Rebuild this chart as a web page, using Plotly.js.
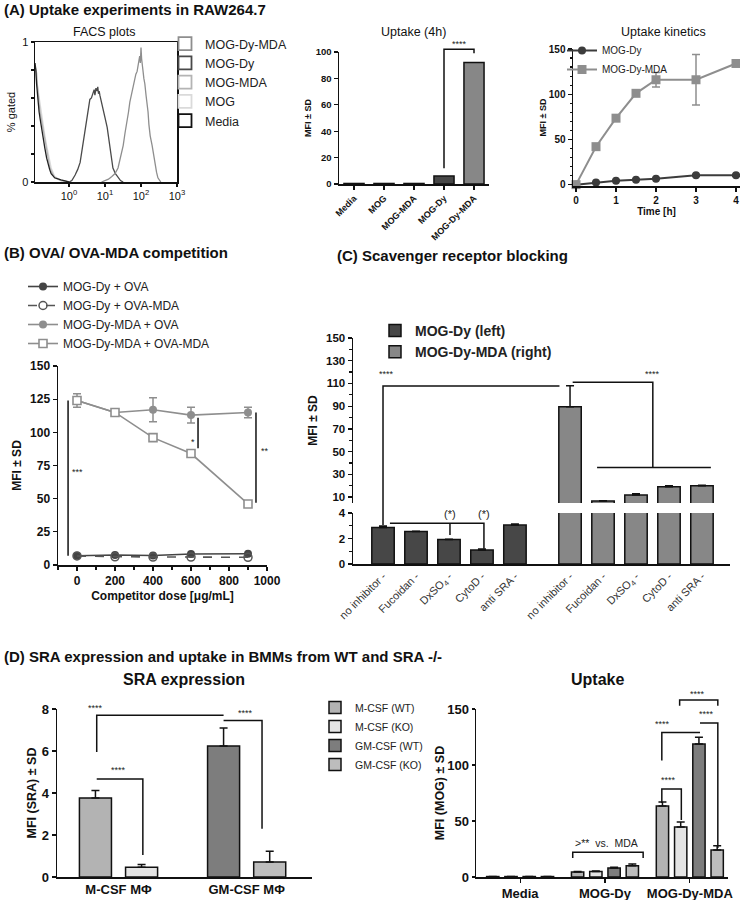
<!DOCTYPE html>
<html>
<head>
<meta charset="utf-8">
<script src="https://cdn.plot.ly/plotly-3.0.1.min.js"></script>
<style>
  html, body { margin: 0; padding: 0; background: #ffffff; }
  #figure { width: 740px; height: 900px; }
</style>
</head>
<body>
<div id="figure"></div>
<script>
(function () {
  "use strict";

  const W = 740;
  const H = 900;
  const FONT = "Liberation Sans, Arial, sans-serif";

  // (A) FACS histograms: fluorescence vs fraction of max
  const FACS_LOW_X = [0.114, 0.12, 0.126, 0.132, 0.138, 0.148, 0.158, 0.168, 0.178, 0.195, 0.214, 0.24, 0.263, 0.29, 0.32, 0.4, 0.6, 1.0];
  const FACS_MEDIA_Y = [0.85, 0.8, 0.7, 0.62, 0.57, 0.5, 0.45, 0.4, 0.36, 0.3, 0.24, 0.17, 0.12, 0.09, 0.06, 0.03, 0.015, 0];
  const FACS_MOG_MDA_Y = [0.83, 0.81, 0.78, 0.7, 0.62, 0.56, 0.5, 0.46, 0.42, 0.36, 0.3, 0.22, 0.16, 0.11, 0.08, 0.03, 0.01, 0];
  const FACS_MOG_Y = [0.8, 0.76, 0.72, 0.69, 0.66, 0.6, 0.55, 0.5, 0.45, 0.39, 0.33, 0.26, 0.2, 0.14, 0.1, 0.04, 0.01, 0];
  const FACS_DY_X = [1.0, 1.2, 1.48, 1.75, 2.04, 2.25, 2.45, 2.8, 3.16, 3.5, 3.8, 4.2, 4.68, 5.0, 5.25, 5.6, 6.0, 6.3, 6.6, 6.9, 7.2, 7.9, 8.7, 10, 11.5, 12.6, 13.8, 15.2, 16.6, 19.5, 23, 27, 32];
  const FACS_DY_Y = [0, 0.01, 0.05, 0.09, 0.14, 0.21, 0.29, 0.38, 0.46, 0.53, 0.59, 0.6, 0.64, 0.66, 0.62, 0.67, 0.65, 0.68, 0.63, 0.65, 0.62, 0.58, 0.53, 0.46, 0.39, 0.31, 0.24, 0.16, 0.1, 0.06, 0.03, 0.01, 0];
  const FACS_DY_MDA_X = [8, 10, 12.5, 15.5, 19, 23, 27, 32, 36, 41, 45, 49, 54, 60, 66, 72, 78, 83, 87, 92, 96, 100, 104, 107, 113, 120, 128, 138, 148, 157, 166, 180, 204, 225, 245, 270, 295, 325, 355];
  const FACS_DY_MDA_Y = [0, 0.01, 0.02, 0.04, 0.06, 0.1, 0.17, 0.26, 0.35, 0.43, 0.5, 0.57, 0.62, 0.69, 0.72, 0.77, 0.79, 0.83, 0.84, 0.9, 0.85, 0.96, 0.88, 0.86, 0.8, 0.74, 0.7, 0.62, 0.57, 0.5, 0.41, 0.33, 0.26, 0.18, 0.12, 0.07, 0.03, 0.01, 0];
  const FACS_LEGEND = ["MOG-Dy-MDA", "MOG-Dy", "MOG-MDA", "MOG", "Media"];
  const FACS_TICKS = [1, 10, 100, 1000];

  // (A) Uptake (4h)
  const UPTAKE4_LABELS = ["Media", "MOG", "MOG-MDA", "MOG-Dy", "MOG-Dy-MDA"];
  const UPTAKE4_VALUES = [0.4, 0.4, 0.4, 6, 92];

  // (A) Uptake kinetics
  const KIN_TIME = [0, 0.5, 1, 1.5, 2, 3, 4];
  const KIN_DY = [0, 2.5, 4.4, 5.5, 6.6, 10.3, 10.3];
  const KIN_DY_SD = [0.3, 0.5, 0.5, 0.5, 0.6, 1, 1];
  const KIN_MDA = [0, 42, 73.5, 101, 116, 116, 134];
  const KIN_MDA_SD = [0.5, 2, 2, 2, 8, 28, 2];

  // (B) competition
  const DOSE = [0, 200, 400, 600, 900];
  const B_DY_OVA = [7, 7.5, 7.2, 8.3, 8.5];
  const B_DY_OVAMDA = [6.8, 6.2, 6.0, 6.0, 5.8];
  const B_MDA_OVA = [124, 115, 117, 113, 115];
  const B_MDA_OVA_SD = [5, 1, 9, 6, 4];
  const B_MDA_OVAMDA = [124, 115, 96, 84, 46];

  // (C) scavenger receptor blocking
  const C_TREATMENTS = ["no inhibitor -", "Fucoidan -", "DxSO<sub>4</sub> -", "CytoD -", "anti SRA -"];
  const C_DY = [2.87, 2.54, 1.93, 1.1, 3.05];
  const C_DY_SD = [0.12, 0.02, 0.02, 0.07, 0.08];
  const C_MDA = [89.5, 6.5, 11.8, 19, 20];
  const C_MDA_SD = [18.5, 0.3, 1.2, 1, 0.4];

  // (D) BMMs from WT and SRA -/-
  const D_GROUPS = ["M-CSF (WT)", "M-CSF (KO)", "GM-CSF (WT)", "GM-CSF (KO)"];
  const SRA_CATS = ["M-CSF M\u03a6", "GM-CSF M\u03a6"];
  const SRA_VALUES = [3.76, 0.47, 6.24, 0.71];
  const SRA_SD = [0.36, 0.12, 0.85, 0.52];
  const UPT_CATS = ["Media", "MOG-Dy", "MOG-Dy-MDA"];
  const UPT_VALUES = [
    [0.4, 4.5, 63.5],
    [0.4, 4.8, 44.6],
    [0.4, 8, 118.8],
    [0.4, 10, 24]
  ];
  const UPT_SD = [
    [0.1, 0.3, 3.5],
    [0.1, 0.5, 4.5],
    [0.1, 0.6, 6],
    [0.1, 1.6, 4]
  ];

  // significance brackets, points as [x, y, y-axis]
  const SIG_BRACKETS = [
    { xref: "x2", pts: [[3, 12, "y2"], [3, 102, "y2"], [4, 102, "y2"], [4, 99, "y2"]] },
    { xref: "x4", pts: [[-47, 124, "y4"], [-47, 7, "y4"]] },
    { xref: "x4", pts: [[637, 111, "y4"], [637, 88, "y4"]] },
    { xref: "x4", pts: [[942, 115, "y4"], [942, 47, "y4"]] },
    { xref: "x5", pts: [[0, 3.05, "y6"], [0, 4, "y6"], [0, 4.8, "y5"], [0, 107.7, "y5"], [5.35, 107.7, "y5"]] },
    { xref: "x5", pts: [[5.75, 111, "y5"], [8.18, 111, "y5"], [8.18, 36, "y5"]] },
    { xref: "x5", pts: [[6.49, 36, "y5"], [9.94, 36, "y5"]] },
    { xref: "x5", pts: [[0.21, 3.2, "y6"], [3.06, 3.2, "y6"], [3.06, 1.2, "y6"]] },
    { xref: "x5", pts: [[2.03, 3.2, "y6"], [2.03, 2.27, "y6"]] },
    { xref: "x6", pts: [[-0.17, 5.95, "y7"], [-0.17, 7.7, "y7"], [0.82, 7.7, "y7"]] },
    { xref: "x6", pts: [[0.82, 7.45, "y7"], [1.12, 7.45, "y7"], [1.12, 2.3, "y7"]] },
    { xref: "x6", pts: [[-0.17, 4.67, "y7"], [0.19, 4.67, "y7"], [0.19, 1.05, "y7"]] },
    { xref: "x7", pts: [[1.88, 153, "y8"], [1.88, 158, "y8"], [2.33, 158, "y8"], [2.33, 153, "y8"]] },
    { xref: "x7", pts: [[2.12, 137.5, "y8"], [2.33, 137.5, "y8"], [2.33, 26, "y8"]] },
    { xref: "x7", pts: [[1.67, 104, "y8"], [1.67, 129, "y8"], [2.12, 129, "y8"]] },
    { xref: "x7", pts: [[1.67, 66, "y8"], [1.67, 78.5, "y8"], [1.9, 78.5, "y8"], [1.9, 51, "y8"]] },
    { xref: "x7", pts: [[0.62, 17, "y8"], [0.62, 22, "y8"], [1.45, 22, "y8"], [1.45, 17, "y8"]] }
  ];
  const SIG_LABELS = [
    { xref: "x2", x: 3.5, y: 106, yref: "y2", text: "****" },
    { xref: "x4", x: 0, y: 70, yref: "y4", text: "***" },
    { xref: "x4", x: 610, y: 93, yref: "y4", text: "*" },
    { xref: "x4", x: 990, y: 86, yref: "y4", text: "**" },
    { xref: "x5", x: 0.1, y: 118, yref: "y5", text: "****" },
    { xref: "x5", x: 8.18, y: 118, yref: "y5", text: "****" },
    { xref: "x5", x: 2.03, y: 3.9, yref: "y6", text: "(*)", size: 11 },
    { xref: "x5", x: 3.06, y: 3.9, yref: "y6", text: "(*)", size: 11 },
    { xref: "x6", x: -0.18, y: 8.05, yref: "y7", text: "****" },
    { xref: "x6", x: 0.99, y: 7.8, yref: "y7", text: "****" },
    { xref: "x6", x: 0.0, y: 5.1, yref: "y7", text: "****" },
    { xref: "x7", x: 2.09, y: 163, yref: "y8", text: "****" },
    { xref: "x7", x: 2.2, y: 145.5, yref: "y8", text: "****" },
    { xref: "x7", x: 1.68, y: 136.6, yref: "y8", text: "****" },
    { xref: "x7", x: 1.75, y: 86.6, yref: "y8", text: "****" },
    { xref: "x7", x: 1.02, y: 30.4, yref: "y8", text: "&gt;**  vs.  MDA", size: 10.5 }
  ];

  const DARK = "#474747";
  const MID = "#878787";
  const OUTLINE = { color: "#111111", width: 1.5 };

  function xDom(left, right) {
    return [left / W, right / W];
  }

  function yDom(top, bottom) {
    return [1 - bottom / H, 1 - top / H];
  }

  function tickFont(size, bold) {
    return { family: FONT, size: size, color: "#111111", weight: bold ? "bold" : "normal" };
  }

  function axis(extra) {
    return Object.assign({
      showline: true,
      linecolor: "#111111",
      linewidth: 1.5,
      ticks: "outside",
      ticklen: 4,
      tickwidth: 1.2,
      tickcolor: "#111111",
      showgrid: false,
      zeroline: false,
      fixedrange: true
    }, extra);
  }

  function axisTitle(text, size, standoff, bold) {
    return { text: text, standoff: standoff, font: { family: FONT, size: size, weight: bold === false ? "normal" : "bold", color: "#111111" } };
  }

  function upErr(values) {
    return {
      type: "data",
      array: values,
      arrayminus: values.map(() => 0),
      symmetric: false,
      color: "#111111",
      thickness: 1.5,
      width: 4
    };
  }

  function sdErr(values, color) {
    return { type: "data", array: values, symmetric: true, color: color, thickness: 1.5, width: 4 };
  }

  function legendBox(left, top, size, bold) {
    return {
      x: left / W,
      y: 1 - top / H,
      xanchor: "left",
      yanchor: "top",
      bgcolor: "rgba(0,0,0,0)",
      borderwidth: 0,
      tracegroupgap: 0,
      font: { family: FONT, size: size, color: "#222222", weight: bold ? "bold" : "normal" }
    };
  }

  const traces = [];

  // ---- (A) FACS plots ----
  const facsLines = [
    { x: FACS_LOW_X, y: FACS_MOG_Y, color: "#dadada" },
    { x: FACS_LOW_X, y: FACS_MOG_MDA_Y, color: "#b4b4b4" },
    { x: FACS_LOW_X, y: FACS_MEDIA_Y, color: "#222222" },
    { x: FACS_DY_X, y: FACS_DY_Y, color: "#4a4a4a" },
    { x: FACS_DY_MDA_X, y: FACS_DY_MDA_Y, color: "#8e8e8e" }
  ];
  facsLines.forEach((item) => {
    traces.push({
      type: "scatter", mode: "lines", x: item.x, y: item.y, xaxis: "x", yaxis: "y",
      line: { color: item.color, width: 1.3 }, showlegend: false, hoverinfo: "skip"
    });
  });
  const facsLegendColors = ["#8e8e8e", "#4a4a4a", "#b4b4b4", "#dadada", "#111111"];
  FACS_LEGEND.forEach((name, i) => {
    traces.push({
      type: "scatter", mode: "markers", x: [null], y: [null], xaxis: "x", yaxis: "y",
      name: name, legend: "legend",
      marker: { symbol: "square-open", size: 13, color: facsLegendColors[i], line: { width: 1.8, color: facsLegendColors[i] } }
    });
  });

  // ---- (A) Uptake (4h) ----
  traces.push({
    type: "bar", x: UPTAKE4_LABELS.map((_, i) => i), y: UPTAKE4_VALUES, xaxis: "x2", yaxis: "y2",
    width: 0.67, showlegend: false,
    marker: { color: ["#ffffff", "#ffffff", "#ffffff", DARK, MID], line: OUTLINE }
  });

  // ---- (A) Uptake kinetics ----
  traces.push({
    type: "scatter", mode: "lines+markers", x: KIN_TIME, y: KIN_DY, xaxis: "x3", yaxis: "y3",
    name: "MOG-Dy", legend: "legend2", cliponaxis: false,
    line: { color: "#3c3c3c", width: 2 },
    marker: { symbol: "circle", size: 8, color: "#3c3c3c" },
    error_y: sdErr(KIN_DY_SD, "#3c3c3c")
  });
  traces.push({
    type: "scatter", mode: "lines+markers", x: KIN_TIME, y: KIN_MDA, xaxis: "x3", yaxis: "y3",
    name: "MOG-Dy-MDA", legend: "legend2", cliponaxis: false,
    line: { color: "#8e8e8e", width: 2 },
    marker: { symbol: "square", size: 9, color: "#8e8e8e" },
    error_y: sdErr(KIN_MDA_SD, "#8e8e8e")
  });

  // ---- (B) OVA / OVA-MDA competition ----
  traces.push({
    type: "scatter", mode: "lines+markers", x: DOSE, y: B_DY_OVA, xaxis: "x4", yaxis: "y4",
    name: "MOG-Dy + OVA", legend: "legend3", cliponaxis: false,
    line: { color: "#444444", width: 1.6 },
    marker: { symbol: "circle", size: 8, color: "#444444" }
  });
  traces.push({
    type: "scatter", mode: "lines+markers", x: DOSE, y: B_DY_OVAMDA, xaxis: "x4", yaxis: "y4",
    name: "MOG-Dy + OVA-MDA", legend: "legend3", cliponaxis: false,
    line: { color: "#555555", width: 1.6, dash: "dash" },
    marker: { symbol: "circle-open", size: 8, color: "#555555", line: { width: 1.5 } }
  });
  traces.push({
    type: "scatter", mode: "lines+markers", x: DOSE, y: B_MDA_OVA, xaxis: "x4", yaxis: "y4",
    name: "MOG-Dy-MDA + OVA", legend: "legend3", cliponaxis: false,
    line: { color: "#8e8e8e", width: 1.6 },
    marker: { symbol: "circle", size: 8, color: "#8e8e8e" },
    error_y: sdErr(B_MDA_OVA_SD, "#8e8e8e")
  });
  traces.push({
    type: "scatter", mode: "lines+markers", x: DOSE, y: B_MDA_OVAMDA, xaxis: "x4", yaxis: "y4",
    name: "MOG-Dy-MDA + OVA-MDA", legend: "legend3", cliponaxis: false,
    line: { color: "#8e8e8e", width: 1.6 },
    marker: { symbol: "square", size: 8, color: "#ffffff", line: { color: "#8e8e8e", width: 1.6 } }
  });

  // ---- (C) scavenger receptor blocking: broken y axis (y5 upper, y6 lower) ----
  const C_RIGHT_SHIFT = 5.67;
  const cLeftX = C_TREATMENTS.map((_, i) => i);
  const cRightX = C_TREATMENTS.map((_, i) => i + C_RIGHT_SHIFT);
  [["y6", true], ["y5", false]].forEach(([yref, inLegend]) => {
    traces.push({
      type: "bar", x: cLeftX, y: C_DY, xaxis: "x5", yaxis: yref, width: 0.68,
      name: "MOG-Dy (left)", legend: "legend4", showlegend: inLegend,
      marker: { color: DARK, line: OUTLINE }, error_y: upErr(C_DY_SD)
    });
    traces.push({
      type: "bar", x: cRightX, y: C_MDA, xaxis: "x5", yaxis: yref, width: 0.68,
      name: "MOG-Dy-MDA (right)", legend: "legend4", showlegend: inLegend,
      marker: { color: MID, line: OUTLINE }, error_y: upErr(C_MDA_SD)
    });
  });

  // ---- (D) SRA expression and uptake ----
  const D_COLORS = ["#b3b3b3", "#e4e4e4", "#7d7d7d", "#bdbdbd"];
  D_GROUPS.forEach((name, k) => {
    const group = Math.floor(k / 2);
    const side = k % 2 === 0 ? -1 : 1;
    traces.push({
      type: "bar", x: [group + side * 0.18], y: [SRA_VALUES[k]], xaxis: "x6", yaxis: "y7", width: 0.25,
      name: name, legend: "legend5",
      marker: { color: D_COLORS[k], line: OUTLINE }, error_y: upErr([SRA_SD[k]])
    });
  });
  D_GROUPS.forEach((name, k) => {
    traces.push({
      type: "bar", x: UPT_CATS.map((_, c) => c + (k - 1.5) * 0.215), y: UPT_VALUES[k],
      xaxis: "x7", yaxis: "y8", width: 0.145, name: name, showlegend: false,
      marker: { color: D_COLORS[k], line: OUTLINE }, error_y: upErr(UPT_SD[k])
    });
  });

  const layout = {
    width: W,
    height: H,
    margin: { l: 0, r: 0, t: 0, b: 0 },
    paper_bgcolor: "#ffffff",
    plot_bgcolor: "rgba(0,0,0,0)",
    font: { family: FONT, color: "#111111", size: 11 },
    barmode: "overlay",
    hovermode: false,
    showlegend: true,

    xaxis: axis({
      domain: xDom(35, 177), anchor: "y", type: "log", range: [-0.944, 3.0], mirror: true, ticklen: 3,
      tickvals: FACS_TICKS, ticktext: FACS_TICKS.map((v) => "10<sup>" + Math.round(Math.log10(v)) + "</sup>"),
      tickfont: tickFont(11, false)
    }),
    yaxis: axis({
      domain: yDom(42, 182), anchor: "x", range: [0, 1], mirror: true, ticklen: 3,
      tickvals: [0, 1], minor: { tickvals: [0.2, 0.4, 0.6, 0.8], ticklen: 3, tickcolor: "#111111" },
      tickfont: tickFont(11, false), title: axisTitle("% gated", 11, 4, false)
    }),

    xaxis2: axis({
      domain: xDom(339, 489), anchor: "y2", range: [-0.5, 4.5],
      tickvals: UPTAKE4_LABELS.map((_, i) => i), ticktext: UPTAKE4_LABELS, tickangle: -45,
      tickfont: tickFont(9, true)
    }),
    yaxis2: axis({
      domain: yDom(52, 184), anchor: "x2", range: [0, 100], dtick: 20,
      tickfont: tickFont(9.5, true), title: axisTitle("MFI \u00b1 SD", 9, 2)
    }),

    xaxis3: axis({
      domain: xDom(573, 740), anchor: "y3", range: [-0.075, 4.1], dtick: 1,
      tickfont: tickFont(10, true), title: axisTitle("Time [h]", 10, 2)
    }),
    yaxis3: axis({
      domain: yDom(49, 186), anchor: "x3", range: [-1.5, 150], tickvals: [0, 50, 100, 150],
      minor: { dtick: 10, tick0: 0, ticklen: 2, tickcolor: "#111111" },
      tickfont: tickFont(10, true), title: axisTitle("MFI \u00b1 SD", 9, 0)
    }),

    xaxis4: axis({
      domain: xDom(58, 267), anchor: "y4", range: [-100, 1000], tickvals: [0, 200, 400, 600, 800, 1000],
      minor: { dtick: 100, tick0: 0, ticklen: 3, tickcolor: "#111111" },
      tickfont: tickFont(12, true), title: axisTitle("Competitor dose [\u03bcg/mL]", 12, 4)
    }),
    yaxis4: axis({
      domain: yDom(366, 565), anchor: "x4", range: [0, 150], dtick: 25,
      tickfont: tickFont(12, true), title: axisTitle("MFI \u00b1 SD", 12, 6)
    }),

    xaxis5: axis({
      domain: xDom(353, 730), anchor: "y6", range: [-0.91, 10.52],
      tickvals: cLeftX.concat(cRightX), ticktext: C_TREATMENTS.concat(C_TREATMENTS), ticks: "",
      tickangle: -45, tickfont: { family: FONT, size: 11, color: "#333333" }
    }),
    yaxis5: axis({
      domain: yDom(338, 503), anchor: "x5", range: [4.8, 150],
      tickvals: [10, 30, 50, 70, 90, 110, 130, 150],
      minor: { tickvals: [20, 40, 60, 80, 100, 120, 140], ticklen: 3, tickcolor: "#111111" },
      tickfont: tickFont(11.5, true), title: axisTitle("MFI \u00b1 SD", 12, 6)
    }),
    yaxis6: axis({
      domain: yDom(513, 564), anchor: "x5", range: [0, 4], tickvals: [0, 2, 4],
      minor: { tickvals: [1, 3], ticklen: 3, tickcolor: "#111111" },
      tickfont: tickFont(11.5, true)
    }),

    xaxis6: axis({
      domain: xDom(57, 312), anchor: "y7", range: [-0.48, 1.51], ticks: "",
      tickvals: SRA_CATS.map((_, i) => i), ticktext: SRA_CATS, tickfont: tickFont(13, true)
    }),
    yaxis7: axis({
      domain: yDom(709, 877), anchor: "x6", range: [0, 8], dtick: 2,
      tickfont: tickFont(13, true), title: axisTitle("MFI (SRA) \u00b1 SD", 12.5, 2)
    }),

    xaxis7: axis({
      domain: xDom(476, 728), anchor: "y8", range: [-0.52, 2.45],
      tickvals: UPT_CATS.map((_, i) => i), ticktext: UPT_CATS, tickfont: tickFont(13, true)
    }),
    yaxis8: axis({
      domain: yDom(709, 877), anchor: "x7", range: [0, 150], dtick: 50, ticklen: 3,
      tickfont: tickFont(13, true), title: axisTitle("MFI (MOG) \u00b1 SD", 12.5, 0)
    }),

    legend: legendBox(165, 29, 12.5, false),
    legend2: legendBox(562, 36, 10, false),
    legend3: legendBox(23, 272, 12, false),
    legend4: legendBox(375, 315, 14, true),
    legend5: legendBox(315, 693, 10.5, false)
  };

  function yAxisKey(ref) {
    return ref === "y" ? "yaxis" : "yaxis" + ref.slice(1);
  }

  function toPaperY(ref, v) {
    const ax = layout[yAxisKey(ref)];
    const d = ax.domain;
    const r = ax.range;
    return d[0] + (v - r[0]) / (r[1] - r[0]) * (d[1] - d[0]);
  }

  layout.shapes = SIG_BRACKETS.map((b) => ({
    type: "path",
    xref: b.xref,
    yref: "paper",
    path: b.pts.map((p, i) => (i === 0 ? "M" : "L") + p[0] + "," + toPaperY(p[2], p[1])).join(" "),
    line: { color: "#111111", width: 1.5 }
  }));

  const headings = [
    { text: "(A) Uptake experiments in RAW264.7", left: 2, top: 9, size: 15, bold: true, anchor: "left" },
    { text: "FACS plots", left: 104, top: 32, size: 12.5, bold: false, anchor: "center" },
    { text: "Uptake (4h)", left: 414, top: 32, size: 12.5, bold: false, anchor: "center" },
    { text: "Uptake kinetics", left: 663, top: 32, size: 12.5, bold: false, anchor: "center" },
    { text: "(B) OVA/ OVA-MDA competition", left: 2, top: 253, size: 15, bold: true, anchor: "left" },
    { text: "(C) Scavenger receptor blocking", left: 335, top: 255, size: 15, bold: true, anchor: "left" },
    { text: "(D) SRA expression and uptake in BMMs from WT and SRA -/-", left: 2, top: 656, size: 15, bold: true, anchor: "left" },
    { text: "SRA expression", left: 184, top: 679, size: 16, bold: true, anchor: "center" },
    { text: "Uptake", left: 597, top: 679, size: 16, bold: true, anchor: "center" }
  ];

  layout.annotations = headings.map((h) => ({
    text: h.text,
    xref: "paper", yref: "paper",
    x: h.left / W, y: 1 - h.top / H,
    xanchor: h.anchor, yanchor: "middle",
    showarrow: false,
    font: { family: FONT, size: h.size, color: "#111111", weight: h.bold ? "bold" : "normal" }
  })).concat(SIG_LABELS.map((s) => ({
    text: s.text,
    xref: s.xref, yref: "paper",
    x: s.x, y: toPaperY(s.yref, s.y),
    xanchor: "center", yanchor: "middle",
    showarrow: false,
    font: { family: FONT, size: s.size || 9, color: "#222222" }
  })));

  Plotly.newPlot("figure", traces, layout, { staticPlot: true, displayModeBar: false });
})();
</script>
</body>
</html>
